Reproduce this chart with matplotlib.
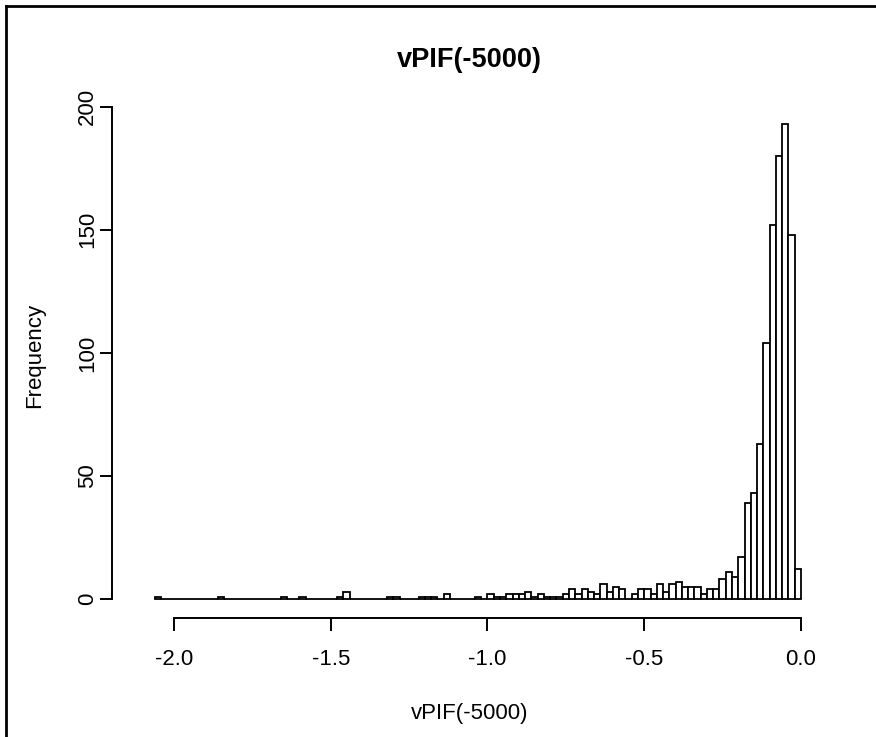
import numpy as np
import matplotlib
matplotlib.use("Agg")
import matplotlib.pyplot as plt
from matplotlib.lines import Line2D

plt.rcParams['font.family'] = ['Liberation Sans', 'DejaVu Sans']

# histogram of vPIF(-5000): breaks every 0.02 from -2.06 to 0.0
bin_edges = np.round(np.linspace(-2.06, 0.0, 104), 2)
counts = [1, 0, 0, 0, 0, 0, 0, 0, 0, 0,
          1, 0, 0, 0, 0, 0, 0, 0, 0, 0,
          1, 0, 0, 1, 0, 0, 0, 0, 0, 1,
          3, 0, 0, 0, 0, 0, 0, 1, 1, 0,
          0, 0, 1, 1, 1, 0, 2, 0, 0, 0,
          0, 1, 0, 2, 1, 1, 2, 2, 2, 3,
          1, 2, 1, 1, 1, 2, 4, 2, 4, 3,
          2, 6, 3, 5, 4, 0, 2, 4, 4, 2,
          6, 3, 6, 7, 5, 5, 5, 2, 4, 4,
          8, 11, 9, 17, 39, 43, 63, 104, 152, 180,
          193, 148, 12]

x_ticks = [-2.0, -1.5, -1.0, -0.5, 0.0]
x_tick_labels = ["-2.0", "-1.5", "-1.0", "-0.5", "0.0"]
y_ticks = [0, 50, 100, 150, 200]
y_tick_labels = ["0", "50", "100", "150", "200"]
title = "vPIF(-5000)"
x_label = "vPIF(-5000)"
y_label = "Frequency"

W, H = 876, 737
fig = plt.figure(figsize=(W / 100, H / 100), dpi=100)
fig.patch.set_facecolor("white")

# plot region in pixels (left, right, top, bottom)
left, right, top, bottom = 112, 827, 105, 618
ax = fig.add_axes([left / W, 1 - bottom / H, (right - left) / W, (bottom - top) / H])

ax.bar(bin_edges[:-1], counts, width=np.diff(bin_edges), align="edge",
       facecolor="white", edgecolor="black", linewidth=1.3)

ax.set_xlim(-2.0 - (174 - left) / 313.5, (right - 801) / 313.5)
ax.set_ylim(-7.72, 200.72)

for side in ["top", "right"]:
    ax.spines[side].set_visible(False)
ax.spines["left"].set_bounds(0, 200)
ax.spines["bottom"].set_bounds(-2.0, 0.0)
ax.spines["left"].set_linewidth(1.4)
ax.spines["bottom"].set_linewidth(1.4)

ax.set_xticks(x_ticks)
ax.set_xticklabels(x_tick_labels)
ax.set_yticks(y_ticks)
ax.set_yticklabels(y_tick_labels, rotation=90, va="center")
ax.tick_params(axis="both", direction="out", length=9, width=1.4, labelsize=16)
ax.tick_params(axis="x", pad=13)
ax.tick_params(axis="y", pad=1)

ax.set_title(title, fontsize=19.5, fontweight="bold", pad=0)
ax.title.set_position((0.5, 1.0))
fig.text((left + right) / 2 / W, 1 - 60 / H, title, fontsize=19.5, fontweight="bold",
         ha="center", va="center")
ax.set_title("")
fig.text((left + right) / 2 / W, 1 - 713 / H, x_label, fontsize=16, ha="center", va="center")
fig.text(35 / W, 1 - 355 / H, y_label, fontsize=16, rotation=90, ha="center", va="center")

# outer frame of the cropped device
fig.add_artist(Line2D([6 / W, 6 / W], [0, 1 - 6 / H], transform=fig.transFigure,
                      color="black", linewidth=2))
fig.add_artist(Line2D([6 / W, 1], [1 - 6 / H, 1 - 6 / H], transform=fig.transFigure,
                      color="black", linewidth=2))

fig.savefig("out.png", dpi=100, facecolor="white")
